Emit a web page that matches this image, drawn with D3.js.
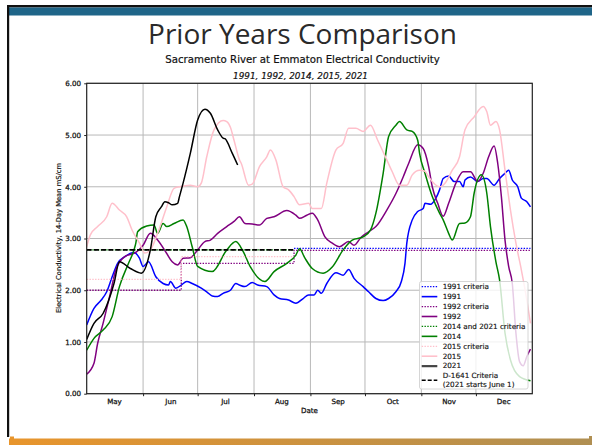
<!DOCTYPE html>
<html><head><meta charset="utf-8">
<script src="https://cdn.jsdelivr.net/npm/d3@7"></script>
<style>body{margin:0;background:#fff;} svg{display:block}</style>
</head><body><svg id="c" width="592" height="445"></svg>
<script>
// ---------------- DATA ----------------
const monthLabels = ["May","Jun","Jul","Aug","Sep","Oct","Nov","Dec"];
const yTicks = [0, 1, 2, 3, 4, 5, 6];

const dates1991 = ["05-01","05-05","05-09","05-12","05-15","05-18","05-22","05-27","05-30","06-01","06-04","06-08","06-12","06-15","06-16","06-19","06-22","06-25","06-28","07-03","07-06","07-09","07-12","07-15","07-19","07-22","07-24","07-27","07-31","08-03","08-08","08-12","08-15","08-20","08-24","08-28","08-31","09-03","09-05","09-07","09-10","09-15","09-19","09-22","09-25","09-30","10-03","10-07","10-11","10-14","10-18","10-21","10-23","10-24","10-27","10-30","11-02","11-03","11-06","11-09","11-11","11-13","11-16","11-19","11-22","11-24","11-25","11-28","12-02","12-05","12-07","12-11","12-14","12-17","12-19","12-21","12-24","12-26","12-29","12-31"];
const values1991 = [1.33,1.65,1.81,1.97,2.26,2.52,2.65,2.73,2.62,2.46,2.55,2.26,2.13,2.10,2.17,2.04,2.10,2.17,2.13,2.04,1.97,1.89,1.88,1.94,2.00,2.13,2.10,2.07,2.15,2.10,2.07,1.91,1.84,1.81,1.75,1.84,1.91,1.91,2.00,1.94,2.13,2.34,2.29,2.40,2.23,2.07,1.97,1.84,1.80,1.84,1.97,2.17,2.52,2.91,3.36,3.52,3.58,3.68,3.66,3.78,3.94,4.16,4.21,4.10,4.10,4.00,4.13,4.19,4.10,4.16,4.16,4.03,4.16,4.26,4.32,4.13,4.00,3.78,3.71,3.61];

const dates1992 = ["05-01","05-05","05-07","05-10","05-14","05-17","05-22","05-28","06-01","06-05","06-09","06-14","06-17","06-20","06-23","06-27","07-01","07-05","07-08","07-12","07-17","07-21","07-24","07-27","07-31","08-04","08-08","08-12","08-19","08-24","08-26","08-30","09-02","09-05","09-09","09-13","09-17","09-22","09-25","09-29","10-03","10-07","10-13","10-18","10-22","10-25","10-30","11-02","11-05","11-07","11-10","11-13","11-16","11-20","11-24","11-28","12-02","12-05","12-08","12-11","12-13","12-15","12-17","12-19","12-21","12-23","12-25","12-27","12-29","12-31"];
const values1992 = [0.38,0.59,0.97,1.36,1.94,2.39,2.65,2.73,2.87,3.10,2.97,2.71,2.55,2.49,2.62,2.63,2.78,2.94,2.97,3.10,3.23,3.33,3.42,3.29,3.28,3.26,3.39,3.42,3.54,3.45,3.39,3.45,3.49,3.36,3.03,2.91,2.84,2.94,2.87,3.03,3.13,3.23,3.55,3.87,4.19,4.45,4.81,4.74,4.39,4.00,3.68,3.43,3.68,4.07,4.29,4.29,4.10,4.26,4.58,4.79,4.45,3.81,2.97,2.46,2.13,1.17,0.62,0.54,0.72,0.86];

const dates2014 = ["05-01","05-05","05-10","05-15","05-19","05-24","05-27","05-28","05-29","06-03","06-07","06-09","06-12","06-14","06-18","06-23","06-25","06-28","07-01","07-09","07-17","07-22","07-26","07-30","08-07","08-12","08-19","08-24","08-26","08-29","09-02","09-08","09-13","09-19","09-24","09-30","10-04","10-07","10-11","10-14","10-18","10-20","10-24","10-27","10-30","10-31","11-03","11-07","11-11","11-13","11-16","11-18","11-22","11-25","11-28","11-30","12-04","12-07","12-09","12-12","12-14","12-17","12-20","12-25","12-31"];
const values2014 = [0.84,1.07,1.23,1.49,2.07,2.52,2.78,2.91,3.13,3.24,3.26,3.10,3.29,3.23,3.29,3.36,3.23,2.84,2.46,2.36,2.78,2.94,2.75,2.45,2.17,2.36,2.52,2.68,2.80,2.62,2.42,2.33,2.45,2.78,2.97,3.03,3.16,3.49,4.26,4.97,5.19,5.26,5.10,5.07,4.90,4.65,4.26,3.81,3.49,3.36,3.10,2.97,3.29,3.30,3.42,3.87,4.23,3.87,3.23,2.55,2.20,1.17,0.65,0.33,0.25];

const dates2015 = ["05-01","05-03","05-07","05-12","05-15","05-19","05-23","05-26","05-30","06-02","06-05","06-09","06-14","06-18","06-21","06-27","07-01","07-03","07-06","07-10","07-15","07-17","07-19","07-21","07-24","07-25","07-29","07-31","08-04","08-08","08-10","08-13","08-17","08-20","08-23","08-26","08-31","09-02","09-07","09-10","09-15","09-19","09-22","09-26","09-30","10-04","10-08","10-13","10-16","10-20","10-24","10-27","10-31","11-03","11-05","11-11","11-14","11-18","11-22","11-25","11-30","12-05","12-07","12-09","12-12","12-14","12-17","12-20","12-23","12-26","12-29","12-31"];
const values2015 = [2.84,3.07,3.23,3.42,3.68,3.55,3.42,3.16,2.91,2.72,2.78,3.10,3.61,3.97,4.00,4.03,4.00,4.07,4.58,5.10,5.28,5.26,5.15,4.90,4.52,4.45,4.03,4.05,4.39,4.58,4.71,4.52,4.00,3.94,3.81,3.65,3.68,3.58,3.58,4.07,4.71,4.84,5.13,5.13,5.07,5.19,4.90,4.52,4.29,4.03,4.03,4.23,4.32,4.30,4.19,4.00,4.07,4.32,4.58,5.10,5.35,5.55,5.45,5.19,5.26,5.10,4.32,3.55,2.91,2.39,1.81,1.36];

const dates2021 = ["05-01","05-05","05-10","05-16","05-19","05-25","05-31","06-05","06-08","06-11","06-13","06-15","06-17","06-20","06-21","06-23","06-27","07-01","07-05","07-08","07-12","07-15","07-16","07-20","07-23"];
const values2021 = [1.05,1.36,1.55,2.13,2.55,2.42,2.33,2.78,3.42,3.61,3.71,3.69,3.65,3.68,3.81,4.07,4.65,5.29,5.50,5.42,5.10,4.94,4.93,4.65,4.42];

// criteria (step functions: value holds from each date to the next)
const crit1991Dates = ["08-23","12-31"];
const crit1991Values = [2.81, 2.81];
const crit1992Dates = ["05-01","06-22","08-23","12-31"];
const crit1992Values = [2.00, 2.52, 2.77, 2.77];
const crit2014Dates = ["05-01","08-23"];
const crit2014Values = [2.78, 2.78];
const crit2015Dates = ["05-01","06-22","08-23"];
const crit2015Values = [2.21, 2.65, 2.65];
const d1641Dates = ["05-01","08-23"];
const d1641Values = [2.78, 2.78];

// ---------------- CHART ----------------
const svg = d3.select("#c");
const parse = s => d3.timeParse("%Y-%m-%d")("2021-" + s);
const toPts = (ds, vs) => ds.map((d, i) => ({date: parse(d), value: vs[i]}));

// slide decoration
const defs = svg.append("defs");
const grad = defs.append("linearGradient").attr("id","gbar").attr("x1","0").attr("x2","1");
grad.append("stop").attr("offset","0").attr("stop-color","#e8952c");
grad.append("stop").attr("offset","1").attr("stop-color","#b08f52");
svg.append("rect").attr("x",7).attr("y",5).attr("width",585).attr("height",2.5).attr("fill","#111");
svg.append("rect").attr("x",9).attr("y",7.5).attr("width",583).attr("height",8).attr("fill","#1f6588");
svg.append("rect").attr("x",7).attr("y",5).attr("width",2.2).attr("height",432).attr("fill","#111");
svg.append("rect").attr("x",9).attr("y",438.5).attr("width",583).attr("height",7).attr("fill","url(#gbar)");
svg.append("rect").attr("x",10).attr("y",436.5).attr("width",4).attr("height",3).attr("fill","#e8952c");
svg.append("rect").attr("x",589).attr("y",436).attr("width",3).attr("height",3).attr("fill","#b08f52");

const fontFam = "'DejaVu Sans', sans-serif";
function fitText(sel, size, target) {
  const len = sel.node().getComputedTextLength();
  sel.attr("font-size", size * target / len);
}

// title
const title = svg.append("text").attr("x",302.5).attr("y",44)
  .attr("text-anchor","middle").attr("font-family","'Open Sans', sans-serif")
  .attr("font-size",30).attr("fill","#2a2a2a").text("Prior Years Comparison");
fitText(title, 30, 309);

const sub = svg.append("text").attr("x",302.5).attr("y",62.5).attr("text-anchor","middle")
  .attr("font-family",fontFam).attr("font-size",10).attr("fill","#111")
  .attr("stroke","#111").attr("stroke-width",0.2)
  .text("Sacramento River at Emmaton Electrical Conductivity");
fitText(sub, 10, 275);
const sub2 = svg.append("text").attr("x",300.5).attr("y",78.5).attr("text-anchor","middle")
  .attr("font-family",fontFam).attr("font-style","italic").attr("font-size",8.8).attr("fill","#111")
  .attr("stroke","#111").attr("stroke-width",0.2)
  .text("1991, 1992, 2014, 2015, 2021");
fitText(sub2, 8.8, 135);

const L = 86.7, R = 532.3, T = 83.3, B = 393.7;
const x = d3.scaleTime().domain([new Date(2021,4,1), new Date(2022,0,1)]).range([L, R]);
const y = d3.scaleLinear().domain([0, 6]).range([B, T]);

const g = svg.append("g");
// grid
const monthStarts = d3.timeMonth.range(new Date(2021,5,1), new Date(2022,0,1));
g.selectAll(".gx").data(monthStarts).join("line")
  .attr("x1", d => x(d)).attr("x2", d => x(d)).attr("y1", T).attr("y2", B)
  .attr("stroke","#b8b8b8").attr("stroke-width",1);
g.selectAll(".gy").data(yTicks).join("line")
  .attr("x1", L).attr("x2", R).attr("y1", d => y(d)).attr("y2", d => y(d))
  .attr("stroke","#b8b8b8").attr("stroke-width",1);

const line = d3.line().x(d => x(d.date)).y(d => y(d.value)).curve(d3.curveMonotoneX);
const step = d3.line().x(d => x(d.date)).y(d => y(d.value)).curve(d3.curveStepAfter);

const DOT = "1.4,1.4";
const LW = 1.5;
const layers = [
  {pts: toPts(crit1991Dates, crit1991Values), color:"#0000ff", dash:DOT, w:1.3, gen: step},
  {pts: toPts(dates1991, values1991), color:"#0000ff", dash:null, w:LW, gen: line},
  {pts: toPts(crit1992Dates, crit1992Values), color:"#800080", dash:DOT, w:1.3, gen: step},
  {pts: toPts(dates1992, values1992), color:"#800080", dash:null, w:LW, gen: line},
  {pts: toPts(crit2014Dates, crit2014Values), color:"#008000", dash:DOT, w:1.3, gen: step},
  {pts: toPts(dates2014, values2014), color:"#008000", dash:null, w:LW, gen: line},
  {pts: toPts(crit2015Dates, crit2015Values), color:"#ffc0cb", dash:DOT, w:1.3, gen: step},
  {pts: toPts(dates2015, values2015), color:"#ffc0cb", dash:null, w:LW, gen: line},
  {pts: toPts(dates2021, values2021), color:"#000000", dash:null, w:LW, gen: line},
  {pts: toPts(d1641Dates, d1641Values), color:"#000000", dash:"5,2.2", w:1.6, gen: step},
];
const clip = defs.append("clipPath").attr("id","pc");
clip.append("rect").attr("x",L).attr("y",T).attr("width",R-L).attr("height",B-T);
const pl = g.append("g").attr("clip-path","url(#pc)");
layers.forEach(l => {
  pl.append("path").attr("d", l.gen(l.pts)).attr("fill","none")
    .attr("stroke", l.color).attr("stroke-width", l.w)
    .attr("stroke-dasharray", l.dash).attr("stroke-linejoin","round");
});

// axes
const xa = g.append("g").attr("transform",`translate(0,${B})`)
  .call(d3.axisBottom(x).tickValues(monthStarts).tickFormat("").tickSize(2.5).tickSizeOuter(0));
const xl = g.append("g").attr("transform",`translate(0,${B})`)
  .call(d3.axisBottom(x).tickValues(monthLabels.map((m,i)=>new Date(2021,4+i,16))).tickFormat((d,i)=>monthLabels[i]).tickSize(0).tickPadding(5));
xl.select(".domain").remove();
const ya = g.append("g").attr("transform",`translate(${L},0)`)
  .call(d3.axisLeft(y).tickValues(yTicks).tickFormat(d3.format(".2f")).tickSize(2.5).tickSizeOuter(0).tickPadding(3.2));
[xa, xl, ya].forEach(a => {
  a.selectAll("text").attr("font-family", fontFam).attr("font-size", 7.1)
    .attr("fill","#111").attr("stroke","#111").attr("stroke-width",0.25);
  a.selectAll("line").attr("stroke","#222");
  a.select(".domain").attr("stroke","none");
});
// spines
g.append("rect").attr("x",L).attr("y",T).attr("width",R-L).attr("height",B-T)
  .attr("fill","none").attr("stroke","#222").attr("stroke-width",1.2);

svg.append("text").attr("x",309.5).attr("y",413).attr("text-anchor","middle")
  .attr("font-family",fontFam).attr("font-size",7.1).attr("fill","#111")
  .attr("stroke","#111").attr("stroke-width",0.25).text("Date");
const ylab = svg.append("text").attr("transform",`translate(60.5,238) rotate(-90)`).attr("text-anchor","middle")
  .attr("font-family",fontFam).attr("font-size",6.6).attr("fill","#111")
  .attr("stroke","#111").attr("stroke-width",0.2)
  .text("Electrical Conductivity, 14-Day Mean mS/cm");
fitText(ylab, 6.6, 150);

// legend
const legendItems = [
  {label:["1991 criteria"], color:"#0000ff", dash:DOT, w:1.3},
  {label:["1991"], color:"#0000ff", dash:null, w:1.6},
  {label:["1992 criteria"], color:"#800080", dash:DOT, w:1.3},
  {label:["1992"], color:"#800080", dash:null, w:1.6},
  {label:["2014 and 2021 criteria"], color:"#008000", dash:DOT, w:1.3},
  {label:["2014"], color:"#008000", dash:null, w:1.6},
  {label:["2015 criteria"], color:"#ffc0cb", dash:DOT, w:1.3},
  {label:["2015"], color:"#ffc0cb", dash:null, w:1.6},
  {label:["2021"], color:"#444444", dash:null, w:2.2},
  {label:["D-1641 Criteria","(2021 starts June 1)"], color:"#000000", dash:"4,2", w:1.6},
];
const lg = svg.append("g");
lg.append("rect").attr("x",419.5).attr("y",281.5).attr("width",108.5).attr("height",107.5).attr("rx",2)
  .attr("fill","#fff").attr("fill-opacity",0.8).attr("stroke","#cccccc").attr("stroke-width",0.8);
let yy = 286.7;
let lsize = 7;
legendItems.forEach((it, idx) => {
  const n = it.label.length;
  const cy = yy + (n - 1) * 4.15;
  lg.append("line").attr("x1",421.7).attr("x2",437.3).attr("y1",cy).attr("y2",cy)
    .attr("stroke",it.color).attr("stroke-width",it.w).attr("stroke-dasharray",it.dash);
  it.label.forEach((t, k) => {
    const tx = lg.append("text").attr("x",442.7).attr("y",yy + k*8.3 + 2.3)
      .attr("font-family",fontFam).attr("font-size",lsize).attr("fill","#111").text(t);
    if (idx === 4) { fitText(tx, 7, 83); lsize = +tx.attr("font-size"); }
  });
  yy += 9.93;
});
lg.selectAll("text").attr("font-size", lsize).attr("stroke","#111").attr("stroke-width",0.15);
</script>
</body></html>
